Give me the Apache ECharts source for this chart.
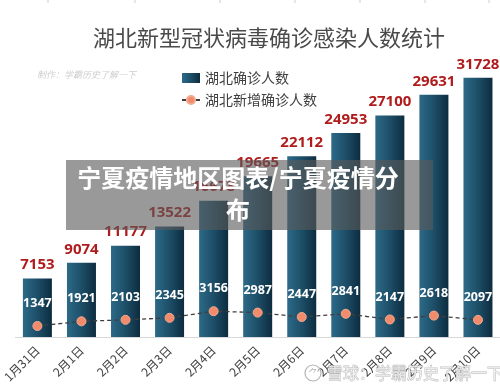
<!DOCTYPE html>
<html>
<head>
<meta charset="utf-8">
<script src="https://cdn.jsdelivr.net/npm/echarts@6/dist/echarts.min.js"></script>
<style>html,body{margin:0;padding:0;background:#fff}#c{width:500px;height:390px}</style>
</head>
<body>
<div id="c"></div>
<script>
var categories = ['1月31日','2月1日','2月2日','2月3日','2月4日','2月5日','2月6日','2月7日','2月8日','2月9日','2月10日'];
var confirmed = [7153, 9074, 11177, 13522, 16678, 19665, 22112, 24953, 27100, 29631, 31728];
var newConfirmed = [1347, 1921, 2103, 2345, 3156, 2987, 2447, 2841, 2147, 2618, 2097];
var topTicks = [48, 135, 220, 295, 360, 425, 489];

var font = '"Noto Sans CJK SC", "Noto Sans", sans-serif';
var chart = echarts.init(document.getElementById('c'), null, {renderer: 'canvas'});

var graphics = [];
topTicks.forEach(function (x) {
  graphics.push({type: 'line', shape: {x1: x, y1: 0, x2: x, y2: 3}, style: {stroke: '#cccccc', lineWidth: 1}, silent: true});
});
graphics.push({type: 'text', left: 37, top: 70, style: {text: '制作：学霸历史了解一下', fill: '#cfcfcf', font: 'italic 9px ' + font}, z: 10});
graphics.push({type: 'rect', shape: {x: 66, y: 160, width: 367, height: 70}, style: {fill: 'rgba(90,90,90,0.62)'}, z: 100});
graphics.push({type: 'text', x: 238, y: 194, style: {text: '宁夏疫情地区图表/宁夏疫情分\n布', fill: '#ffffff', font: 'bold 24px ' + font, align: 'center', verticalAlign: 'middle', lineHeight: 32}, z: 101});
graphics.push({type: 'circle', shape: {cx: 313, cy: 373, r: 8}, style: {fill: 'rgba(255,255,255,0.5)', stroke: '#b5b5b5', lineWidth: 1.2}, z: 100});
graphics.push({type: 'text', x: 313, y: 373, style: {text: '⺈', fill: '#b5b5b5', font: '10px ' + font, align: 'center', verticalAlign: 'middle'}, z: 100});
graphics.push({type: 'text', x: 327, y: 373, style: {text: '雪球：学霸历史了解一下', fill: 'rgba(255,255,255,0.6)', stroke: '#b8b8b8', lineWidth: 0.8, font: '16px ' + font, verticalAlign: 'middle'}, z: 100});

chart.setOption({
  backgroundColor: '#ffffff',
  animation: false,
  title: {
    text: '湖北新型冠状病毒确诊感染人数统计',
    left: 88, top: 22,
    textStyle: {color: '#4a4a4a', fontSize: 22, fontWeight: 'normal', fontFamily: font}
  },
  legend: {
    orient: 'vertical', left: 176, top: 66, itemGap: 8,
    itemWidth: 18, itemHeight: 10,
    textStyle: {color: '#404040', fontSize: 14, fontFamily: font},
    data: [
      {name: '湖北确诊人数', icon: 'rect'},
      {name: '湖北新增确诊人数'}
    ]
  },
  grid: {left: 14, right: 0, top: 51, bottom: 53},
  xAxis: {
    type: 'category', data: categories, boundaryGap: true,
    axisLine: {show: true, lineStyle: {color: '#d9d9d9', width: 1}},
    axisTick: {show: false},
    axisLabel: {rotate: 45, color: '#404040', fontSize: 12, fontFamily: font, margin: 11, interval: 0}
  },
  yAxis: {
    type: 'value', min: 0, max: 35000, show: false,
    splitLine: {show: false}
  },
  series: [
    {
      name: '湖北确诊人数', type: 'bar', data: confirmed, barWidth: 29,
      itemStyle: {
        color: new echarts.graphic.LinearGradient(0, 0, 1, 0, [
          {offset: 0, color: '#2c6a88'},
          {offset: 0.5, color: '#1d4e68'},
          {offset: 1, color: '#0d2c3f'}
        ])
      },
      label: {show: true, position: 'top', distance: 6, color: '#b01c1c', fontSize: 15, fontWeight: 'bold', fontFamily: '"Open Sans", "Noto Sans", sans-serif'}
    },
    {
      name: '湖北新增确诊人数', type: 'line', data: newConfirmed,
      symbol: 'circle', symbolSize: 9,
      lineStyle: {color: '#3f3f3f', width: 1.3, type: [4, 3]},
      itemStyle: {color: '#f08c6c', borderColor: '#f5a88e', borderWidth: 1},
      label: {show: true, position: 'top', distance: 11, color: '#ffffff', fontSize: 12.5, fontWeight: 'bold', fontFamily: '"Open Sans", "Noto Sans", sans-serif'},
      z: 5
    }
  ],
  graphic: graphics
});
</script>
</body>
</html>
